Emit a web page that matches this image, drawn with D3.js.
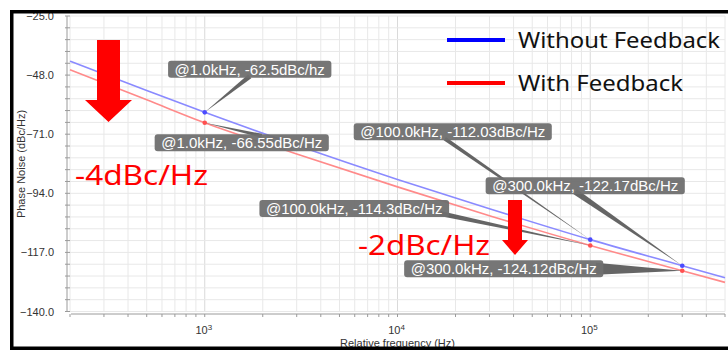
<!DOCTYPE html>
<html>
<head>
<meta charset="utf-8">
<script src="https://cdn.jsdelivr.net/npm/d3@7"></script>
<style>
  body { margin: 0; background: #fff; }
  svg { display: block; }
</style>
</head>
<body>
<svg id="chart" width="728" height="352"></svg>
<script>
// ---- data ----
const freqs = [200, 500, 1e3, 3e3, 1e4, 3e4, 1e5, 3e5, 5e5];
const noiseWithout = [-42.6, -54.0, -62.5, -75.3, -88.6, -100.0, -112.03, -122.17, -126.85];
const noiseWith = [-45.9, -57.6, -66.55, -78.7, -91.5, -102.7, -114.3, -124.12, -128.67];
const seriesNames = ["Without Feedback", "With Feedback"];
const yTickValues = [-25, -48, -71, -94, -117, -140];
const xTickValues = [1e3, 1e4, 1e5];
const xTickExponents = ["3", "4", "5"];

// marker annotations: which series, which frequency, label text
const markerSeries = [0, 1, 0, 0, 1, 1];
const markerFreqs = [1e3, 1e3, 1e5, 3e5, 1e5, 3e5];
const markerLabels = [
  "@1.0kHz, -62.5dBc/hz",
  "@1.0kHz, -66.55dBc/Hz",
  "@100.0kHz, -112.03dBc/Hz",
  "@300.0kHz, -122.17dBc/Hz",
  "@100.0kHz, -114.3dBc/Hz",
  "@300.0kHz, -124.12dBc/Hz"
];
const deltaLabels = ["-4dBc/Hz", "-2dBc/Hz"];

// ---- layout ----
const plot = { left: 70, right: 725, top: 16, bottom: 311.5 };
const seriesColors = ["#8a8aff", "#ff8a8a"];
const seriesDotColors = ["#4b4bff", "#ff5050"];
const legendColors = ["#0000ff", "#ff0000"];
// label box centre offset from its point, wedge anchor offset from box centre, wedge half width
const markerLayout = [
  { dx: 45, dy: -43, ax: 0, ay: 7, w: 2.5 },
  { dx: 37, dy: 20, ax: 20, ay: -7, w: 2 },
  { dx: -137.5, dy: -108, ax: -8, ay: 7, w: 2 },
  { dx: -97, dy: -80, ax: -10, ay: 6, w: 3 },
  { dx: -236, dy: -37, ax: 86, ay: 5, w: 2.5 },
  { dx: -178.5, dy: -2, ax: 92, ay: 0, w: 6 }
];

const svg = d3.select("#chart");

const x = d3.scaleLog().domain([200, 5e5]).range([plot.left, plot.right]);
const y = d3.scaleLinear().domain([-140, -25]).range([plot.bottom, plot.top]);

// ---- grid ----
const grid = svg.append("g");
const minorFreqs = [];
[100, 1e3, 1e4, 1e5].forEach(dec => {
  for (let m = 1; m <= 9; m++) {
    const f = dec * m;
    if (f >= 200 && f <= 5e5) minorFreqs.push(f);
  }
});
grid.selectAll("line.v").data(minorFreqs).join("line")
  .attr("x1", d => x(d)).attr("x2", d => x(d))
  .attr("y1", plot.top).attr("y2", plot.bottom)
  .attr("stroke", d => xTickValues.includes(d) ? "#dadada" : "#e8e8e8")
  .attr("stroke-width", 1);

const hSteps = d3.range(0, 26).map(i => -25 - i * 4.6);
grid.selectAll("line.h").data(hSteps).join("line")
  .attr("x1", plot.left).attr("x2", plot.right)
  .attr("y1", d => y(d)).attr("y2", d => y(d))
  .attr("stroke", "#e8e8e8")
  .attr("stroke-width", 1);

// ---- axes ----
const axisColor = "#9a9a9a";
const yAxisX = 67;
const xAxisY = 314;
svg.append("line")
  .attr("x1", yAxisX).attr("x2", yAxisX)
  .attr("y1", plot.top).attr("y2", plot.bottom)
  .attr("stroke", axisColor);
svg.selectAll("line.ytick").data(hSteps).join("line")
  .attr("x1", yAxisX - 2).attr("x2", yAxisX + 3)
  .attr("y1", d => y(d)).attr("y2", d => y(d))
  .attr("stroke", axisColor);
svg.selectAll("text.ylab").data(yTickValues).join("text")
  .attr("x", 54).attr("y", d => y(d))
  .attr("text-anchor", "end").attr("dominant-baseline", "central")
  .attr("font-family", "Liberation Sans, Arial, sans-serif")
  .attr("font-size", 11).attr("fill", "#333")
  .text(d => d3.format(".1f")(d));

svg.append("line")
  .attr("x1", plot.left + 1).attr("x2", plot.right)
  .attr("y1", xAxisY).attr("y2", xAxisY)
  .attr("stroke", axisColor);
svg.selectAll("line.xtick").data(minorFreqs).join("line")
  .attr("x1", d => x(d)).attr("x2", d => x(d))
  .attr("y1", xAxisY).attr("y2", xAxisY + 3)
  .attr("stroke", axisColor);
const xLab = svg.selectAll("text.xlab").data(xTickValues).join("text")
  .attr("x", d => x(d) - 1).attr("y", 334)
  .attr("text-anchor", "middle")
  .attr("font-family", "Liberation Sans, Arial, sans-serif")
  .attr("font-size", 11).attr("fill", "#333");
xLab.append("tspan").text("10");
xLab.append("tspan").attr("dy", -4).attr("font-size", 8).text((d, i) => xTickExponents[i]);

svg.append("text")
  .attr("x", (plot.left + plot.right) / 2).attr("y", 347)
  .attr("text-anchor", "middle")
  .attr("font-family", "Liberation Sans, Arial, sans-serif")
  .attr("font-size", 11).attr("fill", "#333")
  .text("Relative frequency (Hz)");

svg.append("text")
  .attr("transform", `translate(25,164) rotate(-90)`)
  .attr("text-anchor", "middle")
  .attr("font-family", "Liberation Sans, Arial, sans-serif")
  .attr("font-size", 11).attr("fill", "#333")
  .text("Phase Noise (dBc/Hz)");

// ---- curves ----
const seriesData = [noiseWithout, noiseWith].map(vals => freqs.map((f, i) => ({ f, v: vals[i] })));
const line = d3.line().x(d => x(d.f)).y(d => y(d.v)).curve(d3.curveMonotoneX);
svg.append("g").selectAll("path").data(seriesData).join("path")
  .attr("d", line)
  .attr("fill", "none")
  .attr("stroke", (d, i) => seriesColors[i])
  .attr("stroke-width", 1.6);

// ---- legend ----
const legend = svg.append("g");
seriesNames.forEach((name, i) => {
  const ly = 40 + i * 43;
  legend.append("line")
    .attr("x1", 447).attr("x2", 505).attr("y1", ly).attr("y2", ly)
    .attr("stroke", legendColors[i]).attr("stroke-width", 4);
  legend.append("text")
    .attr("x", 518).attr("y", ly + 8)
    .attr("font-family", "Noto Sans, sans-serif")
    .attr("font-size", 22).attr("fill", "#111")
    .attr("textLength", i === 0 ? 202 : 165)
    .attr("lengthAdjust", "spacingAndGlyphs")
    .text(name);
});

// ---- marker callouts ----
const seriesValues = [noiseWithout, noiseWith];
const markers = markerLabels.map((label, i) => {
  const s = markerSeries[i];
  const f = markerFreqs[i];
  const v = seriesValues[s][freqs.indexOf(f)];
  return { label, s, px: x(f), py: y(v), ...markerLayout[i] };
});

const wedges = svg.append("g");
const boxes = svg.append("g");
markers.forEach(m => {
  const cx = m.px + m.dx, cy = m.py + m.dy;
  const axp = cx + m.ax, ayp = cy + m.ay;
  const ddx = axp - m.px, ddy = ayp - m.py;
  const len = Math.hypot(ddx, ddy);
  const nx = -ddy / len, ny = ddx / len;
  wedges.append("path")
    .attr("d", `M${m.px},${m.py}L${axp + nx * m.w},${ayp + ny * m.w}L${axp - nx * m.w},${ayp - ny * m.w}Z`)
    .attr("fill", "#4a4a4a").attr("opacity", 0.85);

  const g = boxes.append("g");
  const t = g.append("text")
    .attr("x", cx).attr("y", cy)
    .attr("text-anchor", "middle").attr("dominant-baseline", "central")
    .attr("font-family", "Liberation Sans, Arial, sans-serif")
    .attr("font-size", 15).attr("fill", "#fff")
    .text(m.label);
  const bb = t.node().getBBox();
  g.insert("rect", "text")
    .attr("x", bb.x - 6.5).attr("y", cy - 8.5)
    .attr("width", bb.width + 13).attr("height", 17)
    .attr("rx", 3)
    .attr("fill", "#6f6f6f").attr("opacity", 0.95);
});

// marker dots
svg.append("g").selectAll("circle").data(markers).join("circle")
  .attr("cx", d => d.px).attr("cy", d => d.py).attr("r", 2.3)
  .attr("fill", d => seriesDotColors[d.s]);

// ---- improvement arrows and text ----
svg.append("path")
  .attr("d", "M97,40L120,40L120,100L132,100L108.5,122L85,100L97,100Z")
  .attr("fill", "#ff0000");
svg.append("path")
  .attr("d", "M508,200L522,200L522,240L528,240L515,255L502,240L508,240Z")
  .attr("fill", "#ff0000");

svg.append("text")
  .attr("x", 75).attr("y", 185)
  .attr("font-family", "Noto Sans, sans-serif")
  .attr("font-size", 27).attr("fill", "#ff0000")
  .attr("textLength", 133).attr("lengthAdjust", "spacingAndGlyphs")
  .text(deltaLabels[0]);
svg.append("text")
  .attr("x", 358).attr("y", 255)
  .attr("font-family", "Noto Sans, sans-serif")
  .attr("font-size", 27).attr("fill", "#ff0000")
  .attr("textLength", 132).attr("lengthAdjust", "spacingAndGlyphs")
  .text(deltaLabels[1]);

// ---- frame ----
svg.append("rect")
  .attr("x", 11.75).attr("y", 11.75)
  .attr("width", 740).attr("height", 336.5)
  .attr("fill", "none").attr("stroke", "#000").attr("stroke-width", 3.5);
</script>
</body>
</html>
